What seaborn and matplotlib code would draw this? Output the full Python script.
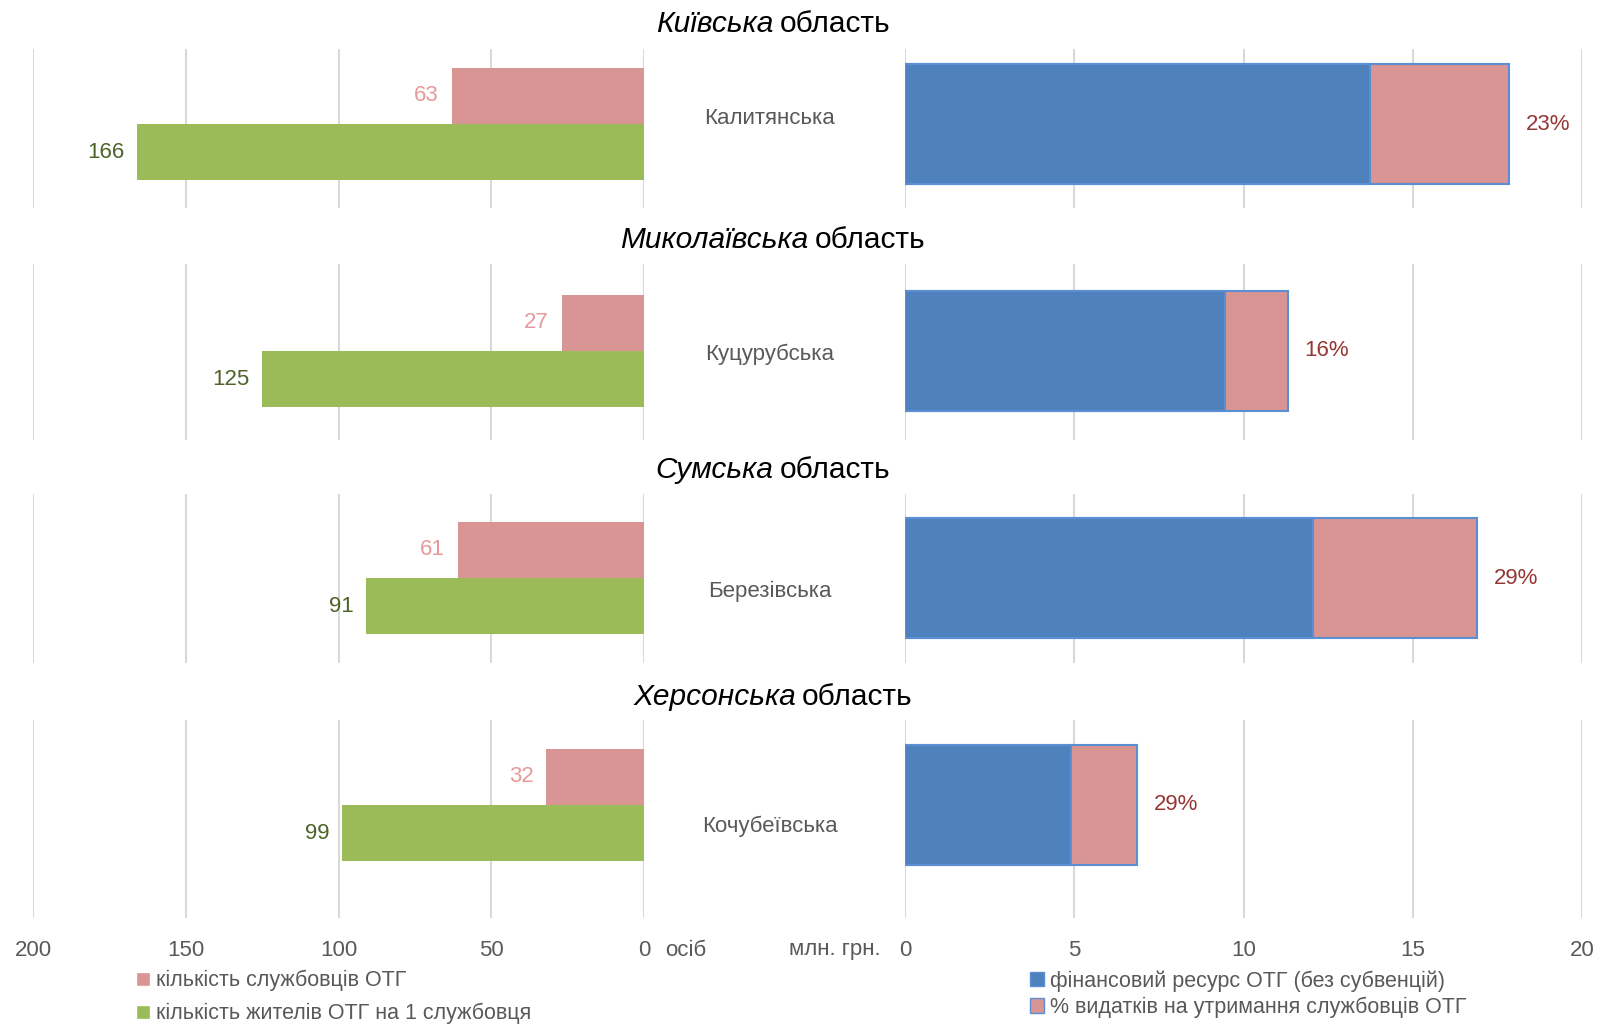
import numpy as np
import pandas as pd
import matplotlib
matplotlib.use("Agg")
import matplotlib.pyplot as plt
import seaborn as sns
from matplotlib.patches import Patch

# values
regions = ["Київська", "Миколаївська", "Сумська", "Херсонська"]
communities = ["Калитянська", "Куцурубська", "Березівська", "Кочубеївська"]
staff_count = [63, 27, 61, 32]
residents_per_staff = [166, 125, 91, 99]
fin_resource = [13.75, 9.45, 12.05, 4.9]   # млн. грн. (без субвенцій)
staff_costs = [4.1, 1.85, 4.85, 1.95]      # млн. грн.
staff_pct = [23, 16, 29, 29]
left_ticks = [0, 50, 100, 150, 200]
right_ticks = [0, 5, 10, 15, 20]

lab_staff = "кількість службовців ОТГ"
lab_res = "кількість жителів ОТГ на 1 службовця"
lab_fin = "фінансовий ресурс ОТГ (без субвенцій)"
lab_pct = "% видатків на утримання службовців ОТГ"

PINK = "#D99594"
GREEN = "#9BBB59"
BLUE = "#4F81BD"
EDGE = "#5B8FD3"
GRID = "#D9D9D9"
GREY = "#595959"

sns.set_theme(style="white")
plt.rcParams["font.family"] = ["Liberation Sans", "DejaVu Sans"]

W, H = 1605, 1024
fig = plt.figure(figsize=(W / 100, H / 100), dpi=100)

# layout in pixels
L0, L1 = 33, 644
R0, R1 = 905, 1582
row_top = [49, 264, 494, 720]
row_bot = [208, 440, 663, 918]
row_mid = [124, 351, 578, 805]
name_y = [119, 354, 591, 826]
title_y = [24, 240, 470, 697]
PAIR = 112.6  # px height of the two left bars together

titles = []
for i in range(4):
    top, bot, mid = row_top[i], row_bot[i], row_mid[i]
    pos_y = 1 - bot / H
    h = (bot - top) / H
    ylim = ((bot - mid) / PAIR, (top - mid) / PAIR)

    # left panel
    axL = fig.add_axes([L0 / W, pos_y, (L1 - L0) / W, h])
    dfL = pd.DataFrame({"name": [communities[i]] * 2,
                        "series": [lab_staff, lab_res],
                        "value": [staff_count[i], residents_per_staff[i]]})
    sns.barplot(data=dfL, x="value", y="name", hue="series",
                hue_order=[lab_staff, lab_res], palette=[PINK, GREEN],
                width=1.0, saturation=1, dodge=True, legend=False,
                errorbar=None, linewidth=0, ax=axL)
    axL.set_xlim(200, 0)
    axL.set_ylim(*ylim)
    axL.bar_label(axL.containers[0], padding=9, color="#E59A9A", fontsize=16)
    axL.bar_label(axL.containers[1], padding=9, color="#4F6228", fontsize=16)

    # right panel
    axR = fig.add_axes([R0 / W, pos_y, (R1 - R0) / W, h])
    dfR = pd.DataFrame({"name": [communities[i]],
                        "fin": [fin_resource[i]],
                        "total": [fin_resource[i] + staff_costs[i]]})
    sns.barplot(data=dfR, x="total", y="name", color=PINK, width=1.064,
                saturation=1, edgecolor=EDGE, linewidth=1.5, errorbar=None, ax=axR)
    sns.barplot(data=dfR, x="fin", y="name", color=BLUE, width=1.064,
                saturation=1, edgecolor=EDGE, linewidth=1.5, errorbar=None, ax=axR)
    axR.set_xlim(0, 20)
    axR.set_ylim(*ylim)
    axR.bar_label(axR.containers[0], labels=[f"{staff_pct[i]}%"], padding=12,
                  color="#953735", fontsize=16)

    for ax, ticks in ((axL, left_ticks), (axR, right_ticks)):
        ax.set_xticks(ticks)
        ax.set_yticks([])
        ax.set_xlabel("")
        ax.set_ylabel("")
        ax.grid(axis="x", color=GRID, lw=1.5)
        ax.set_axisbelow(True)
        for s in ax.spines.values():
            s.set_visible(False)
        ax.patch.set_alpha(0)
        ax.tick_params(axis="x", length=0, pad=16, labelsize=16, labelcolor=GREY,
                       labelbottom=(i == 3))

    fig.text(770 / W, 1 - name_y[i] / H, communities[i], ha="center", va="center",
             fontsize=16, color=GREY)

    t1 = fig.text(0, 1 - title_y[i] / H, regions[i], style="italic", fontsize=21.5,
                  ha="left", va="center", color="black")
    t2 = fig.text(0, 1 - title_y[i] / H, "область", fontsize=21.5,
                  ha="left", va="center", color="black")
    titles.append((t1, t2))

fig.text(665 / W, 1 - 950 / H, "осіб", ha="left", va="center", fontsize=16, color=GREY)
fig.text(881 / W, 1 - 950 / H, "млн. грн.", ha="right", va="center", fontsize=16, color=GREY)

# center the two-part titles
fig.canvas.draw()
rend = fig.canvas.get_renderer()
gap = 6
for t1, t2 in titles:
    w1 = t1.get_window_extent(rend).width
    w2 = t2.get_window_extent(rend).width
    x0 = 773 - (w1 + gap + w2) / 2
    t1.set_x(x0 / W)
    t2.set_x((x0 + w1 + gap) / W)

fig.legend(handles=[Patch(facecolor=PINK), Patch(facecolor=GREEN)],
           labels=[lab_staff, lab_res], loc="upper left",
           bbox_to_anchor=(136 / W, 1 - 970 / H), frameon=False, fontsize=15.5,
           handlelength=0.65, handleheight=0.65, handletextpad=0.3,
           labelspacing=0.55, borderpad=0, borderaxespad=0, labelcolor=GREY)
fig.legend(handles=[Patch(facecolor=BLUE, edgecolor=EDGE), Patch(facecolor=PINK, edgecolor=EDGE)],
           labels=[lab_fin, lab_pct], loc="upper left",
           bbox_to_anchor=(1030 / W, 1 - 970 / H), frameon=False, fontsize=15.5,
           handlelength=0.65, handleheight=0.65, handletextpad=0.3,
           labelspacing=0.25, borderpad=0, borderaxespad=0, labelcolor=GREY)

fig.savefig("out.png", dpi=100)
